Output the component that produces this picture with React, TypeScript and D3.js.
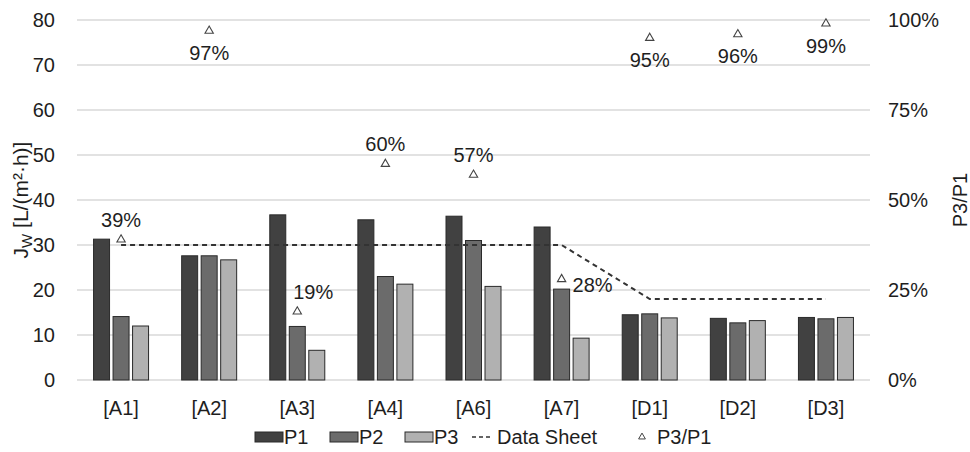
import React, { useEffect, useRef } from "react";
import * as d3 from "d3";

// chart data
const categories = ["[A1]", "[A2]", "[A3]", "[A4]", "[A6]", "[A7]", "[D1]", "[D2]", "[D3]"];
const seriesNames = ["P1", "P2", "P3"];
const p1 = [31.3, 27.6, 36.7, 35.6, 36.4, 34.0, 14.5, 13.7, 13.9];
const p2 = [14.1, 27.6, 11.9, 23.0, 31.0, 20.2, 14.7, 12.7, 13.6];
const p3 = [12.0, 26.7, 6.6, 21.3, 20.8, 9.3, 13.8, 13.2, 13.9];
const dataSheet = [30, 30, 30, 30, 30, 30, 18, 18, 18];
const ratio = [0.39, 0.97, 0.19, 0.6, 0.57, 0.28, 0.95, 0.96, 0.99];
const ratioLabels = ["39%", "97%", "19%", "60%", "57%", "28%", "95%", "96%", "99%"];
const leftTicks = [0, 10, 20, 30, 40, 50, 60, 70, 80];
const rightTicks = [0, 0.25, 0.5, 0.75, 1];
// where each P3/P1 label sits relative to its marker
const labelPlace = ["above", "below", "aboveRight", "above", "above", "right", "below", "below", "below"];

const W = 970;
const H = 452;
const FONT = "'Liberation Sans', Arial, sans-serif";
const colors = ["#414141", "#6b6b6b", "#b1b1b1"];

const App: React.FC = () => {
  const svgRef = useRef<SVGSVGElement | null>(null);

  useEffect(() => {
    const svg = d3.select(svgRef.current);
    svg.selectAll("*").remove();

    const left = 77;
    const right = 870;
    const top = 20;
    const bottom = 380;

    const x = d3.scaleBand<string>().domain(categories).range([left, right]);
    const groupW = 55;
    const xs = d3.scaleBand<string>().domain(seriesNames).range([0, groupW]).paddingInner(0.18);
    const y = d3.scaleLinear().domain([0, 80]).range([bottom, top]);
    const yR = d3.scaleLinear().domain([0, 1]).range([bottom, top]);

    svg.append("rect").attr("width", W).attr("height", H).attr("fill", "#fff");

    // gridlines
    const gridVals = d3.range(0, 81, 10);
    svg
      .append("g")
      .selectAll("line")
      .data(gridVals)
      .join("line")
      .attr("x1", left)
      .attr("x2", right)
      .attr("y1", (d) => y(d))
      .attr("y2", (d) => y(d))
      .attr("stroke", "#d9d9d9")
      .attr("stroke-width", 1.3);

    // left tick labels
    svg
      .append("g")
      .selectAll("text")
      .data(leftTicks)
      .join("text")
      .attr("x", 55)
      .attr("y", (d) => y(d))
      .attr("dy", "0.35em")
      .attr("text-anchor", "end")
      .attr("font-family", FONT)
      .attr("font-size", 20)
      .attr("fill", "#1e1e1e")
      .text((d) => d);

    // right tick labels
    svg
      .append("g")
      .selectAll("text")
      .data(rightTicks)
      .join("text")
      .attr("x", 888)
      .attr("y", (d) => yR(d))
      .attr("dy", "0.35em")
      .attr("font-family", FONT)
      .attr("font-size", 20)
      .attr("fill", "#1e1e1e")
      .text((d) => d3.format(".0%")(d));

    // axis titles
    const yt = svg
      .append("text")
      .attr("transform", `translate(28, ${(top + bottom) / 2}) rotate(-90)`)
      .attr("text-anchor", "middle")
      .attr("font-family", FONT)
      .attr("font-size", 21)
      .attr("fill", "#1e1e1e");
    yt.append("tspan").text("J");
    yt.append("tspan").attr("font-size", 15).attr("dy", 4).text("W");
    yt.append("tspan").attr("dy", -4).text(" [L/(m²·h)]");

    svg
      .append("text")
      .attr("transform", `translate(967, ${(top + bottom) / 2}) rotate(-90)`)
      .attr("text-anchor", "middle")
      .attr("font-family", FONT)
      .attr("font-size", 20)
      .attr("fill", "#1e1e1e")
      .text("P3/P1");

    // bars
    const seriesVals = [p1, p2, p3];
    seriesNames.forEach((s, si) => {
      svg
        .append("g")
        .selectAll("rect")
        .data(seriesVals[si])
        .join("rect")
        .attr("x", (_, i) => x(categories[i])! + (x.bandwidth() - groupW) / 2 + xs(s)!)
        .attr("y", (d) => y(d))
        .attr("width", xs.bandwidth())
        .attr("height", (d) => y(0) - y(d))
        .attr("fill", colors[si])
        .attr("stroke", "#2a2a2a")
        .attr("stroke-width", 1);
    });

    // category labels
    svg
      .append("g")
      .selectAll("text")
      .data(categories)
      .join("text")
      .attr("x", (d) => x(d)! + x.bandwidth() / 2)
      .attr("y", 415)
      .attr("text-anchor", "middle")
      .attr("font-family", FONT)
      .attr("font-size", 20)
      .attr("fill", "#1e1e1e")
      .text((d) => d);

    // data sheet line
    const line = d3
      .line<number>()
      .x((_, i) => x(categories[i])! + x.bandwidth() / 2)
      .y((d) => y(d));
    svg
      .append("path")
      .attr("d", line(dataSheet)!)
      .attr("fill", "none")
      .attr("stroke", "#333")
      .attr("stroke-width", 2)
      .attr("stroke-dasharray", "5,4");

    // ratio markers
    const tri = d3.symbol(d3.symbolTriangle, 30);
    const cx = (i: number) => x(categories[i])! + x.bandwidth() / 2;
    svg
      .append("g")
      .selectAll("path")
      .data(ratio)
      .join("path")
      .attr("d", tri()!)
      .attr("transform", (d, i) => `translate(${cx(i)}, ${yR(d)})`)
      .attr("fill", "#fff")
      .attr("stroke", "#444")
      .attr("stroke-width", 1.1);

    svg
      .append("g")
      .selectAll("text")
      .data(ratio)
      .join("text")
      .attr("x", (_, i) => {
        const p = labelPlace[i];
        if (p === "right") return cx(i) + 11;
        if (p === "aboveRight") return cx(i) + 16;
        return cx(i);
      })
      .attr("y", (d, i) => {
        const p = labelPlace[i];
        if (p === "below") return yR(d) + 22;
        if (p === "right") return yR(d) + 6;
        return yR(d) - 20;
      })
      .attr("dy", "0.35em")
      .attr("text-anchor", (_, i) => (labelPlace[i] === "right" ? "start" : "middle"))
      .attr("font-family", FONT)
      .attr("font-size", 20)
      .attr("fill", "#1e1e1e")
      .text((_, i) => ratioLabels[i]);

    // legend
    const ly = 437;
    const lg = svg.append("g").attr("font-family", FONT).attr("font-size", 20).attr("fill", "#1e1e1e");
    const swX = [255, 330, 405];
    seriesNames.forEach((s, si) => {
      lg.append("rect")
        .attr("x", swX[si])
        .attr("y", ly - 5)
        .attr("width", 28)
        .attr("height", 10)
        .attr("fill", colors[si])
        .attr("stroke", "#2a2a2a")
        .attr("stroke-width", 1);
      lg.append("text")
        .attr("x", swX[si] + 29)
        .attr("y", ly)
        .attr("dy", "0.35em")
        .text(s);
    });
    lg.append("line")
      .attr("x1", 472)
      .attr("x2", 490)
      .attr("y1", ly)
      .attr("y2", ly)
      .attr("stroke", "#333")
      .attr("stroke-width", 1.5)
      .attr("stroke-dasharray", "4,3");
    lg.append("text").attr("x", 497).attr("y", ly).attr("dy", "0.35em").text("Data Sheet");
    lg.append("path")
      .attr("d", d3.symbol(d3.symbolTriangle, 20)()!)
      .attr("transform", `translate(642, ${ly})`)
      .attr("fill", "#fff")
      .attr("stroke", "#444");
    lg.append("text").attr("x", 657).attr("y", ly).attr("dy", "0.35em").text("P3/P1");
  }, []);

  return (
    <div style={{ position: "absolute", left: 0, top: 0 }}>
      <svg ref={svgRef} width={W} height={H}></svg>
    </div>
  );
};

export default App;
